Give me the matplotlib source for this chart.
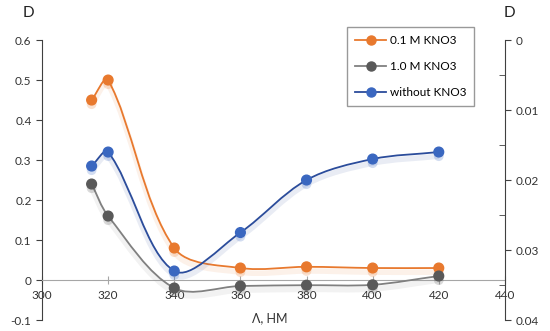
import matplotlib
matplotlib.use("Agg")
import matplotlib.pyplot as plt
import matplotlib.patheffects as pe
from matplotlib.path import Path
from matplotlib.patches import PathPatch
from matplotlib.lines import Line2D
from matplotlib.ticker import MultipleLocator
import numpy as np

plt.rcParams['font.family'] = ['Lato', 'DejaVu Sans']

# длины волн, нм
wavelength = [315, 320, 340, 360, 380, 400, 420]
# оптическая плотность, левая ось
d_01m = [0.45, 0.50, 0.08, 0.03, 0.033, 0.03, 0.03]
d_10m = [0.24, 0.16, -0.02, -0.015, -0.013, -0.012, 0.01]
# оптическая плотность без KNO3, правая (перевёрнутая) ось
d_none = [0.018, 0.016, 0.033, 0.0275, 0.020, 0.017, 0.016]

labels = ['0.1 M KNO3', '1.0 M KNO3', 'without KNO3']
line_colors = ['#E8792E', '#808080', '#2B4C9B']
marker_colors = ['#E8792E', '#595959', '#3A67C0']


def smooth_path(axis, x, y):
    # сглаженная линия как в Excel: Безье, ручки считаются в пикселях
    tr = axis.transData
    pts = tr.transform(np.column_stack([x, y]).astype(float))
    n = len(pts)
    d = np.hypot(*np.diff(pts, axis=0).T)
    verts = [pts[0]]
    codes = [Path.MOVETO]
    for i in range(n - 1):
        a = pts[max(i - 1, 0)]
        b = pts[min(i + 2, n - 1)]
        d_prev = d[i - 1] if i > 0 else d[i]
        d_next = d[i + 1] if i < n - 2 else d[i]
        t1 = (pts[i + 1] - a) * d[i] / (d_prev + d[i]) / 3 if i > 0 else (pts[i + 1] - pts[i]) / 3
        t2 = (b - pts[i]) * d[i] / (d[i] + d_next) / 3 if i < n - 2 else (pts[i + 1] - pts[i]) / 3
        verts += [pts[i] + t1, pts[i + 1] - t2, pts[i + 1]]
        codes += [Path.CURVE4] * 3
    verts = tr.inverted().transform(np.array(verts))
    return Path(verts, codes)


fig = plt.figure(figsize=(5.5, 3.31), dpi=100)
ax = fig.add_axes([0.0764, 0.0332, 0.8416, 0.8458])
ax2 = ax.twinx()

ax.set_xlim(300, 440)
ax.set_ylim(-0.1, 0.6)
ax2.set_ylim(0.04, 0)

shadow_line = lambda c: [pe.SimpleLineShadow(offset=(0, -3), shadow_color=c, alpha=0.1, linewidth=4), pe.Normal()]
shadow_mark = lambda c: [pe.SimplePatchShadow(offset=(0, -3), shadow_rgbFace=c, alpha=0.22), pe.Normal()]

for axis, ys, lc, mc in [(ax, d_01m, line_colors[0], marker_colors[0]),
                         (ax, d_10m, line_colors[1], marker_colors[1]),
                         (ax2, d_none, line_colors[2], marker_colors[2])]:
    patch = PathPatch(smooth_path(axis, wavelength, ys), facecolor='none', edgecolor=lc,
                      lw=1.3, transform=axis.transData, zorder=3)
    patch.set_path_effects(shadow_line(lc))
    axis.add_patch(patch)
    axis.plot(wavelength, ys, 'o', color=mc, ms=7, zorder=4, path_effects=shadow_mark(mc))

ax.xaxis.set_major_locator(MultipleLocator(20))
ax.yaxis.set_major_locator(MultipleLocator(0.1))
ax.yaxis.set_major_formatter(plt.FuncFormatter(lambda v, p: f'{v:.1f}' if abs(v) > 1e-9 else '0'))
ax2.yaxis.set_major_locator(MultipleLocator(0.01))
ax2.yaxis.set_minor_locator(MultipleLocator(0.005))
ax2.yaxis.set_major_formatter(plt.FuncFormatter(lambda v, p: f'{v:.2f}' if abs(v) > 1e-9 else '0'))

ax.spines['bottom'].set_position(('data', 0))
ax.spines['bottom'].set_color('#A6A6A6')
ax.spines['left'].set_color('#404040')
ax.spines['top'].set_visible(False)
ax.spines['right'].set_visible(False)
ax2.spines['top'].set_visible(False)
ax2.spines['left'].set_visible(False)
ax2.spines['bottom'].set_visible(False)
ax2.spines['right'].set_color('#404040')

ax.tick_params(axis='x', direction='inout', length=6, color='#A6A6A6', labelsize=8.5, pad=4, labelcolor='#333333')
ax.tick_params(axis='y', direction='out', length=4, color='#404040', labelsize=8.5, labelcolor='#333333')
ax2.tick_params(axis='y', which='major', direction='out', length=4, color='#404040', labelsize=8.5, labelcolor='#333333')
ax2.tick_params(axis='y', which='minor', direction='in', length=4, color='#404040')

fig.text(0.051, 0.96, 'D', fontsize=11, ha='center', va='center', color='#222222')
fig.text(0.926, 0.96, 'D', fontsize=11, ha='center', va='center', color='#222222')
fig.text(0.49, 0.04, 'Λ, НМ', fontsize=9, ha='center', va='center', color='#333333')

handles = [Line2D([], [], color=lc, marker='o', mfc=mc, mec=mc, ms=6.5, lw=1.3)
           for lc, mc in zip(line_colors, marker_colors)]
leg = ax2.legend(handles, labels, loc='upper left', bbox_to_anchor=(0.631, 0.918),
                 bbox_transform=fig.transFigure, fontsize=8.5, frameon=True, fancybox=False,
                 handlelength=2.6, labelspacing=1.25, handletextpad=0.3, borderpad=0.7,
                 borderaxespad=0)
leg.get_frame().set_edgecolor('#808080')
leg.get_frame().set_linewidth(1.0)

fig.savefig('out.png', dpi=100)
